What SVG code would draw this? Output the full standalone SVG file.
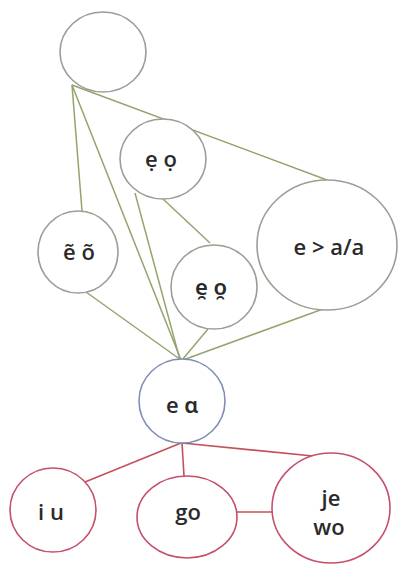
<svg xmlns="http://www.w3.org/2000/svg" width="398" height="566" viewBox="0 0 398 566">
<style>
.n{fill:#fff;stroke:#9c9e94;stroke-width:1.6}
.b{fill:#fff;stroke:#7f8fb4;stroke-width:1.6}
.r{fill:#fff;stroke:#c4506a;stroke-width:1.6}
.g{stroke:#93a56f;stroke-width:1.5;fill:none}
.rl{stroke:#c4505a;stroke-width:1.6;fill:none}
text{font-family:"Open Sans","Noto Sans","DejaVu Sans",sans-serif;font-size:22px;font-weight:600;fill:#2a2a2a;text-anchor:middle}
</style>
<rect width="398" height="566" fill="#fff"/>
<g id="connectors">
<line class="g" x1="72" y1="85" x2="82" y2="211"/>
<line class="g" x1="72" y1="85" x2="181" y2="360"/>
<line class="g" x1="72" y1="85" x2="327" y2="180"/>
<line class="g" x1="135" y1="193" x2="180" y2="360"/>
<line class="g" x1="163" y1="199" x2="210" y2="243"/>
<line class="g" x1="86" y1="292" x2="181" y2="360"/>
<line class="g" x1="208" y1="329" x2="182" y2="360"/>
<line class="g" x1="323" y1="309" x2="183" y2="360"/>
<line class="rl" x1="181" y1="443" x2="85" y2="482"/>
<line class="rl" x1="182" y1="443" x2="184" y2="476"/>
<line class="rl" x1="182" y1="443" x2="313" y2="456"/>
<line class="rl" x1="237" y1="512" x2="272" y2="512"/>
</g>
<g id="n-top"><ellipse class="n" cx="103" cy="52" rx="43" ry="40"/></g>
<g id="n-edot"><ellipse class="n" cx="163" cy="159" rx="43" ry="40"/><text x="161" y="167">ẹ ọ</text></g>
<g id="n-etilde"><ellipse class="n" cx="78" cy="252" rx="40" ry="41"/><text x="79" y="260">ẽ õ</text></g>
<g id="n-ebreve"><ellipse class="n" cx="214" cy="287" rx="43" ry="42"/><text x="211" y="295">e̯ o̯</text></g>
<g id="n-eaa"><ellipse class="n" cx="327" cy="245" rx="70" ry="65"/><text x="329" y="255">e &gt; a/a</text></g>
<g id="n-eo"><ellipse class="b" cx="182" cy="401" rx="43" ry="42"/><text x="182" y="413">e ɑ</text></g>
<g id="n-iu"><ellipse class="r" cx="53" cy="510" rx="43" ry="42"/><text x="51" y="520">i u</text></g>
<g id="n-go"><ellipse class="r" cx="187" cy="517" rx="50" ry="41"/><text x="188" y="520">go</text></g>
<g id="n-jewo"><ellipse class="r" cx="331" cy="508" rx="59" ry="55"/><text x="331" y="506">je</text><text x="329" y="535">wo</text></g>
</svg>
